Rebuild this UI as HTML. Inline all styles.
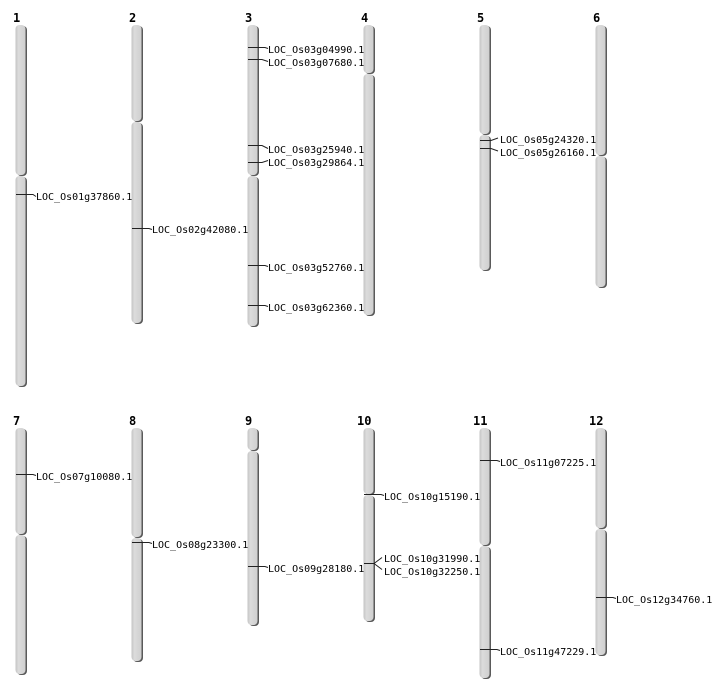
<!DOCTYPE html>
<html><head><meta charset="utf-8"><style>
html,body{margin:0;padding:0;background:#fff;width:712px;height:700px;overflow:hidden}
svg{display:block}
text{font-family:"DejaVu Sans Mono","Liberation Mono",monospace;font-size:10px;fill:#000}
.n{font-weight:bold;font-size:12px}
.s{fill:#5a5a5a}
.m{fill:url(#g)}
line,polyline{stroke:#222;stroke-width:1;fill:none}
</style></head><body>
<svg width="712" height="700" xmlns="http://www.w3.org/2000/svg">
<defs><linearGradient id="g" x1="0" x2="1" y1="0" y2="0">
<stop offset="0" stop-color="#c4c4c4"/><stop offset="0.3" stop-color="#dcdcdc"/><stop offset="1" stop-color="#cfcfcf"/></linearGradient></defs>

<!-- numbers -->
<text class="n" x="13" y="22">1</text><text class="n" x="129" y="22">2</text><text class="n" x="245" y="22">3</text>
<text class="n" x="361" y="22">4</text><text class="n" x="477" y="22">5</text><text class="n" x="593" y="22">6</text>
<text class="n" x="13" y="425">7</text><text class="n" x="129" y="425">8</text><text class="n" x="245" y="425">9</text>
<text class="n" x="357" y="425">10</text><text class="n" x="473" y="425">11</text><text class="n" x="589" y="425">12</text>

<!-- chr1 -->
<rect class="s" x="17" y="26" width="10" height="150" rx="4"/><rect class="m" x="15.5" y="25" width="10" height="150" rx="4"/>
<rect class="s" x="17" y="177" width="10" height="210" rx="4"/><rect class="m" x="15.5" y="176" width="10" height="210" rx="4"/>
<!-- chr2 -->
<rect class="s" x="133" y="26" width="10" height="96" rx="4"/><rect class="m" x="131.5" y="25" width="10" height="96" rx="4"/>
<rect class="s" x="133" y="123" width="10" height="201" rx="4"/><rect class="m" x="131.5" y="122" width="10" height="201" rx="4"/>
<!-- chr3 -->
<rect class="s" x="249" y="26" width="10" height="150" rx="4"/><rect class="m" x="247.5" y="25" width="10" height="150" rx="4"/>
<rect class="s" x="249" y="177" width="10" height="150" rx="4"/><rect class="m" x="247.5" y="176" width="10" height="150" rx="4"/>
<!-- chr4 -->
<rect class="s" x="365" y="26" width="10" height="48" rx="4"/><rect class="m" x="363.5" y="25" width="10" height="48" rx="4"/>
<rect class="s" x="365" y="75" width="10" height="241" rx="4"/><rect class="m" x="363.5" y="74" width="10" height="241" rx="4"/>
<!-- chr5 -->
<rect class="s" x="481" y="26" width="10" height="109" rx="4"/><rect class="m" x="479.5" y="25" width="10" height="109" rx="4"/>
<rect class="s" x="481" y="136" width="10" height="135" rx="4"/><rect class="m" x="479.5" y="135" width="10" height="135" rx="4"/>
<!-- chr6 -->
<rect class="s" x="597" y="26" width="10" height="130" rx="4"/><rect class="m" x="595.5" y="25" width="10" height="130" rx="4"/>
<rect class="s" x="597" y="157" width="10" height="131" rx="4"/><rect class="m" x="595.5" y="156" width="10" height="131" rx="4"/>
<!-- chr7 -->
<rect class="s" x="17" y="429" width="10" height="106" rx="4"/><rect class="m" x="15.5" y="428" width="10" height="106" rx="4"/>
<rect class="s" x="17" y="536" width="10" height="139" rx="4"/><rect class="m" x="15.5" y="535" width="10" height="139" rx="4"/>
<!-- chr8 -->
<rect class="s" x="133" y="429" width="10" height="109" rx="4"/><rect class="m" x="131.5" y="428" width="10" height="109" rx="4"/>
<rect class="s" x="133" y="539" width="10" height="123" rx="4"/><rect class="m" x="131.5" y="538" width="10" height="123" rx="4"/>
<!-- chr9 -->
<rect class="s" x="249" y="429" width="10" height="22" rx="4"/><rect class="m" x="247.5" y="428" width="10" height="22" rx="4"/>
<rect class="s" x="249" y="452" width="10" height="174" rx="4"/><rect class="m" x="247.5" y="451" width="10" height="174" rx="4"/>
<!-- chr10 -->
<rect class="s" x="365" y="429" width="10" height="66" rx="4"/><rect class="m" x="363.5" y="428" width="10" height="66" rx="4"/>
<rect class="s" x="365" y="496" width="10" height="126" rx="4"/><rect class="m" x="363.5" y="495" width="10" height="126" rx="4"/>
<!-- chr11 -->
<rect class="s" x="481" y="429" width="10" height="117" rx="4"/><rect class="m" x="479.5" y="428" width="10" height="117" rx="4"/>
<rect class="s" x="481" y="547" width="10" height="132" rx="4"/><rect class="m" x="479.5" y="546" width="10" height="132" rx="4"/>
<!-- chr12 -->
<rect class="s" x="597" y="429" width="10" height="100" rx="4"/><rect class="m" x="595.5" y="428" width="10" height="100" rx="4"/>
<rect class="s" x="597" y="530" width="10" height="126" rx="4"/><rect class="m" x="595.5" y="529" width="10" height="126" rx="4"/>

<!-- markers -->
<polyline points="16,194.5 33,194.5 36,196.5"/><text x="36" y="200">LOC_Os01g37860.1</text>
<polyline points="132,228.5 149,228.5 152,229.5"/><text x="152" y="233">LOC_Os02g42080.1</text>

<polyline points="248,47.5 265,47.5 268,48.5"/><text x="268" y="53">LOC_Os03g04990.1</text>
<polyline points="248,59.5 262,59.5 268,61.5"/><text x="268" y="66">LOC_Os03g07680.1</text>
<polyline points="248,145.5 262,145.5 268,148.5"/><text x="268" y="153">LOC_Os03g25940.1</text>
<polyline points="248,162.5 262,162.5 268,160.5"/><text x="268" y="166">LOC_Os03g29864.1</text>
<polyline points="248,265.5 265,265.5 268,266.5"/><text x="268" y="271">LOC_Os03g52760.1</text>
<polyline points="248,305.5 265,305.5 268,306.5"/><text x="268" y="311">LOC_Os03g62360.1</text>

<polyline points="480,140.5 491,140.5 498,138"/><text x="500" y="143">LOC_Os05g24320.1</text>
<polyline points="480,148.5 491,148.5 498,151"/><text x="500" y="156">LOC_Os05g26160.1</text>

<polyline points="16,474.5 33,474.5 36,475.5"/><text x="36" y="480">LOC_Os07g10080.1</text>
<polyline points="132,542.5 149,542.5 152,543.5"/><text x="152" y="548">LOC_Os08g23300.1</text>
<polyline points="248,566.5 265,566.5 268,567.5"/><text x="268" y="572">LOC_Os09g28180.1</text>

<polyline points="364,494.5 381,494.5 384,495.5"/><text x="384" y="500">LOC_Os10g15190.1</text>
<polyline points="364,563.5 374,563.5 382,557.5"/><polyline points="374,563.5 382,569.5"/>
<text x="384" y="562">LOC_Os10g31990.1</text><text x="384" y="575">LOC_Os10g32250.1</text>

<polyline points="480,460.5 497,460.5 500,461.5"/><text x="500" y="466">LOC_Os11g07225.1</text>
<polyline points="480,649.5 497,649.5 500,650.5"/><text x="500" y="655">LOC_Os11g47229.1</text>
<polyline points="596,597.5 613,597.5 616,598.5"/><text x="616" y="603">LOC_Os12g34760.1</text>
</svg>
</body></html>
